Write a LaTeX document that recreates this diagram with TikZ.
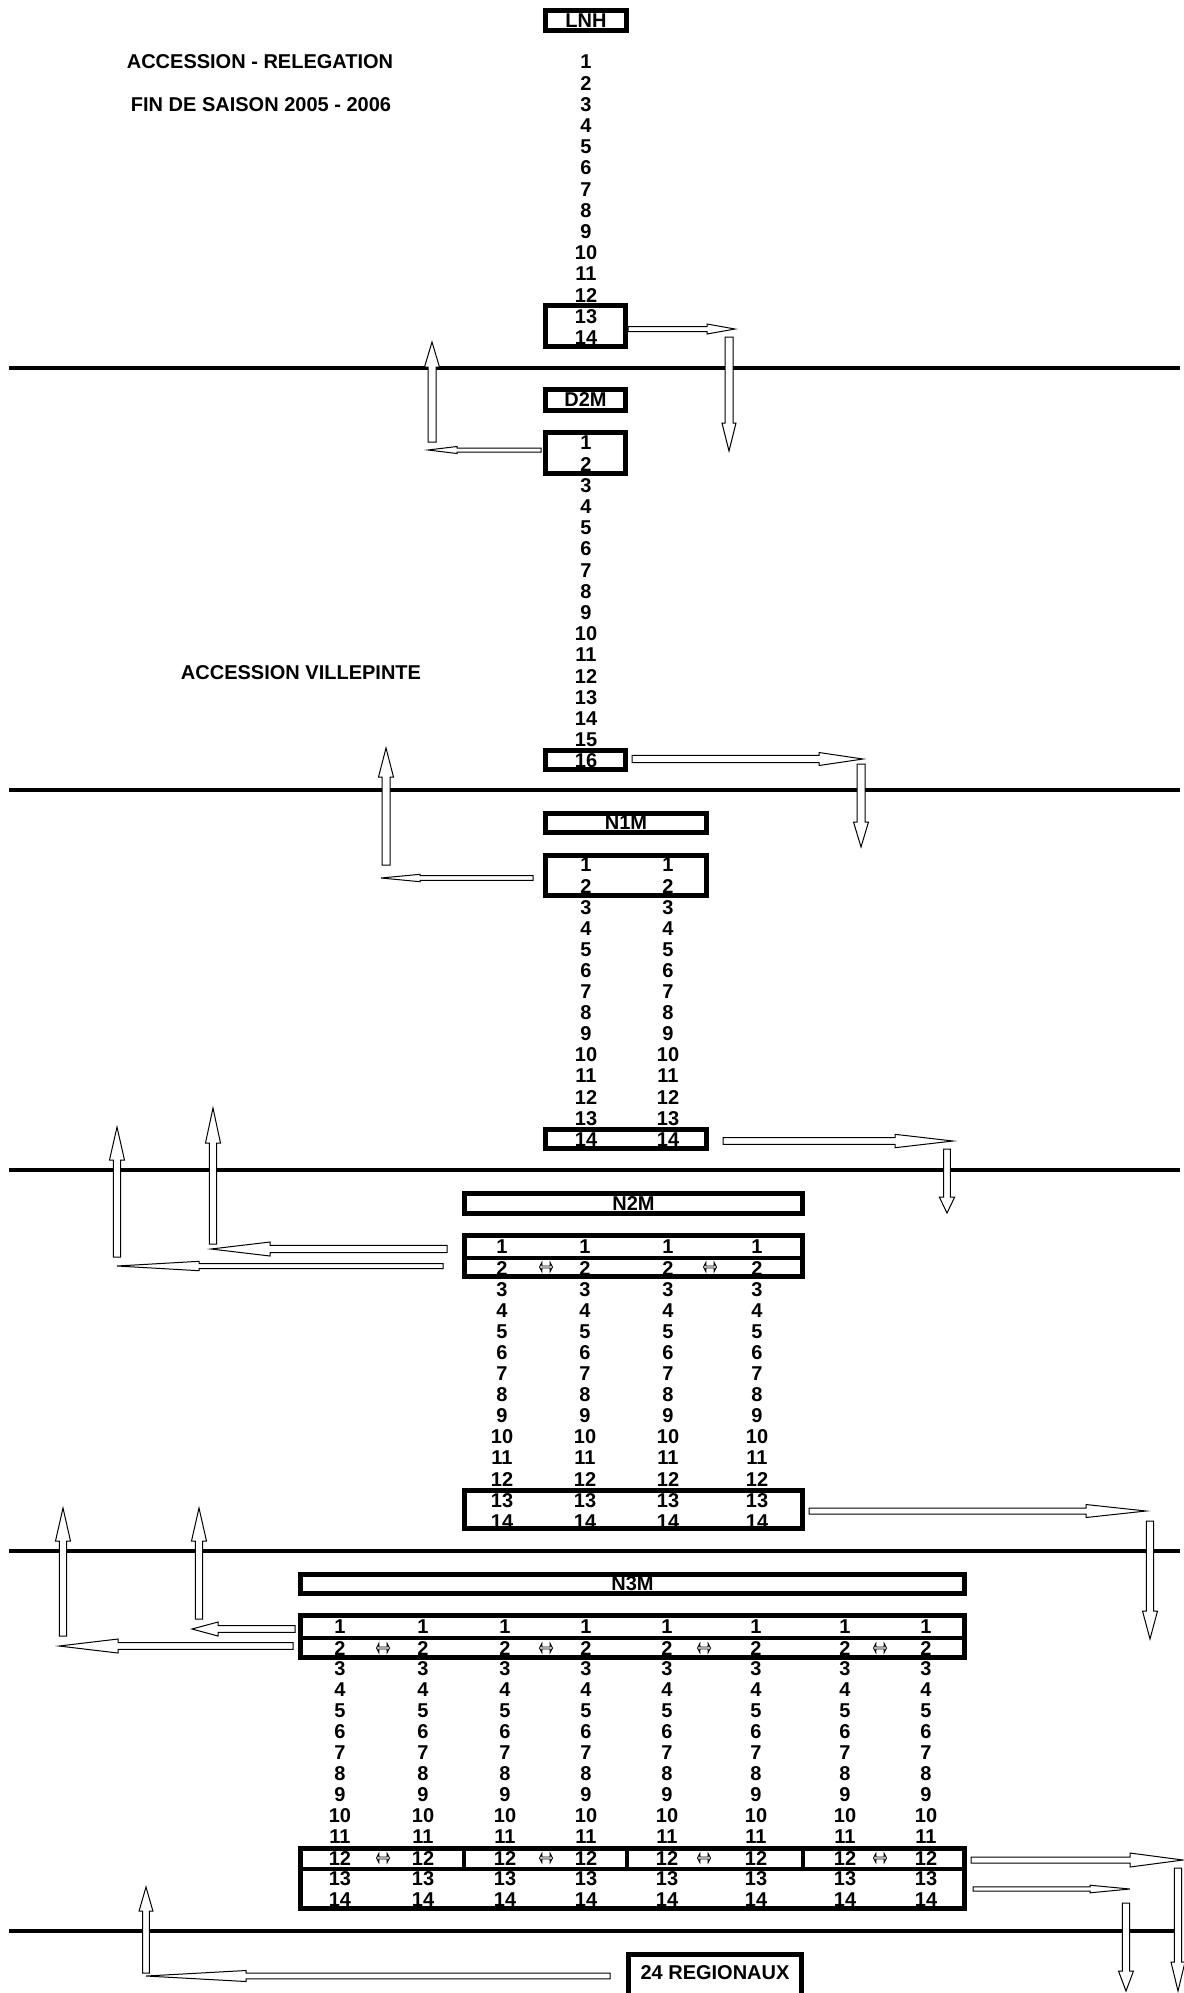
\documentclass[tikz,border=0pt]{standalone}
\usepackage{fontspec}
\setmainfont{Liberation Sans}
\usetikzlibrary{calc,shapes.arrows}

% hollow block arrow: tail, tip, shaft half-width, head half-width, head length
\newcommand{\blockarrow}[5]{%
  \coordinate (hb) at ($(#2)!#5!(#1)$);
  \draw[hollow] ($(#1)!#3!90:(#2)$) -- ($(hb)!#3!90:(#2)$) -- ($(hb)!#4!90:(#2)$) -- (#2)
    -- ($(hb)!#4!-90:(#2)$) -- ($(hb)!#3!-90:(#2)$) -- ($(#1)!#3!-90:(#2)$) -- cycle;}

\begin{document}
\begin{tikzpicture}[x=0.5pt, y=-0.5pt, font=\bfseries\fontsize{10}{11}\selectfont,
    num/.style={inner sep=0pt},
    tag/.style={draw, line width=2.3pt, inner sep=0pt},
    boxline/.style={line width=2.3pt},
    sepline/.style={line width=2.4pt},
    hollow/.style={draw, fill=white, line width=0.5pt},
    xchg/.style={double arrow, draw, line width=0.45pt, inner sep=0pt,
      minimum height=6.5pt, minimum width=4.6pt, double arrow tip angle=125,
      double arrow head extend=0.8pt}]
  \useasboundingbox (0,0) rectangle (1184,1993);

  % headings
  \node[num] (head1) at (260,62) {ACCESSION - RELEGATION};
  \node[num] (head2) at (261,105) {FIN DE SAISON 2005 - 2006};
  \node[num] (vill) at (301,673) {ACCESSION VILLEPINTE};

  % LNH
  \node[tag, minimum width=40.5pt, minimum height=10pt] (lnh) at (586,20.5) {LNH};
  \foreach \i in {1,...,14}
    \node[num] (lnh-\i) at (586,{62+21.2*(\i-1)}) {\i};
  \draw[boxline] (545.5,305.5) rectangle (625.5,346.5);

  % D2M
  \node[tag, minimum width=40pt, minimum height=10.5pt] (d2m) at (585.5,400) {D2M};
  \foreach \i in {1,...,16}
    \node[num] (d2m-\i) at (586,{443+21.2*(\i-1)}) {\i};
  \draw[boxline] (545.5,432.5) rectangle (625.5,473.5);
  \draw[boxline] (545.5,750.5) rectangle (625.5,769.5);

  % N1M
  \node[tag, minimum width=80.5pt, minimum height=9.5pt] (n1m) at (626,823) {N1M};
  \foreach \c [count=\k] in {586,668}
    \foreach \i in {1,...,14}
      \node[num] (n1m-\k-\i) at (\c,{865+21.1*(\i-1)}) {\i};
  \draw[boxline] (545.5,855.5) rectangle (706.5,895.5);
  \draw[boxline] (545.5,1129.5) rectangle (706.5,1148.5);

  % N2M
  \node[tag, minimum width=169pt, minimum height=10pt] (n2m) at (633.5,1203.5) {N2M};
  \foreach \c [count=\k] in {502,585,668,757}
    \foreach \i in {1,...,14}
      \node[num] (n2m-\k-\i) at (\c,{1247+21.1*(\i-1)}) {\i};
  \draw[boxline] (464.5,1235.5) rectangle (802.5,1276.5) (464.5,1258) -- (802.5,1258);
  \draw[boxline] (464.5,1490.5) rectangle (802.5,1528.5);
  \foreach \c [count=\k] in {546,710}
    \node[xchg] (n2m-x\k) at (\c,1267) {};

  % N3M
  \node[tag, minimum width=332pt, minimum height=9.5pt] (n3m) at (632.5,1584) {N3M};
  \foreach \c [count=\k] in {340,423,505,586,667,756,845,926}
    \foreach \i in {1,...,14}
      \node[num] (n3m-\k-\i) at (\c,{1627+21*(\i-1)}) {\i};
  \draw[boxline] (300.5,1615.5) rectangle (964.5,1657.5) (300.5,1638) -- (964.5,1638);
  \draw[boxline] (300.5,1848.5) rectangle (964.5,1908.5) (300.5,1869) -- (964.5,1869);
  \foreach \c in {464,627,803}
    \draw[boxline] (\c,1848.5) -- (\c,1869);
  \foreach \c [count=\k] in {383,546,704,880} {
    \node[xchg] (n3m-x\k) at (\c,1648) {};
    \node[xchg] (n3m-y\k) at (\c,1858) {};
  }

  % regionaux
  \node[num] (reg) at (715,1973) {24 REGIONAUX};
  \draw[boxline] (628.5,2000) |- (801.5,1954.5) -- (801.5,2000);

  % separators
  \foreach \y in {368,790,1170,1551,1931}
    \draw[sepline] (9,\y) -- (1180,\y);

  % LNH <-> D2M
  \coordinate (r1a) at (628,329);  \coordinate (r1b) at (735,329);
  \coordinate (d1a) at (729,337);  \coordinate (d1b) at (729,451);
  \coordinate (u1a) at (432,442);  \coordinate (u1b) at (432,342);
  \coordinate (l1a) at (541,450);  \coordinate (l1b) at (428,450);
  \blockarrow{r1a}{r1b}{1.25pt}{2.5pt}{14pt}
  \blockarrow{d1a}{d1b}{2pt}{3.5pt}{14pt}
  \blockarrow{u1a}{u1b}{2pt}{3.75pt}{12.5pt}
  \blockarrow{l1a}{l1b}{1pt}{1.75pt}{14.5pt}

  % D2M <-> N1M
  \coordinate (r2a) at (632,759);  \coordinate (r2b) at (863,759);
  \coordinate (d2a) at (861,764);  \coordinate (d2b) at (861,847);
  \coordinate (u2a) at (386,865);  \coordinate (u2b) at (386,748);
  \coordinate (l2a) at (533,878);  \coordinate (l2b) at (381,878);
  \blockarrow{r2a}{r2b}{1.85pt}{3.25pt}{22pt}
  \blockarrow{d2a}{d2b}{2pt}{3.75pt}{12.5pt}
  \blockarrow{u2a}{u2b}{2pt}{3.75pt}{14.5pt}
  \blockarrow{l2a}{l2b}{1.15pt}{1.85pt}{19.5pt}

  % N1M <-> N2M
  \coordinate (r3a) at (723,1141);  \coordinate (r3b) at (953,1141);
  \coordinate (d3a) at (947,1149);  \coordinate (d3b) at (947,1213);
  \coordinate (u3a) at (117,1257);  \coordinate (u3b) at (117,1127);
  \coordinate (u4a) at (213,1244);  \coordinate (u4b) at (213,1108);
  \coordinate (l3a) at (447,1249);  \coordinate (l3b) at (211,1249);
  \coordinate (l4a) at (443,1266);  \coordinate (l4b) at (117,1266);
  \blockarrow{r3a}{r3b}{1.65pt}{3.35pt}{29pt}
  \blockarrow{d3a}{d3b}{1.65pt}{3.85pt}{8pt}
  \blockarrow{u3a}{u3b}{1.85pt}{3.75pt}{16.5pt}
  \blockarrow{u4a}{u4b}{1.85pt}{3.75pt}{17.5pt}
  \blockarrow{l3a}{l3b}{1.85pt}{3.5pt}{29.5pt}
  \blockarrow{l4a}{l4b}{1.25pt}{2.35pt}{41pt}

  % N2M <-> N3M
  \coordinate (r4a) at (809,1511);  \coordinate (r4b) at (1146,1511);
  \coordinate (d4a) at (1150,1521); \coordinate (d4b) at (1150,1639);
  \coordinate (u5a) at (63,1636);   \coordinate (u5b) at (63,1508);
  \coordinate (u6a) at (199,1619);  \coordinate (u6b) at (199,1508);
  \coordinate (l5a) at (295,1629);  \coordinate (l5b) at (192,1629);
  \coordinate (l6a) at (293,1646);  \coordinate (l6b) at (59,1646);
  \blockarrow{r4a}{r4b}{1.5pt}{3.25pt}{30pt}
  \blockarrow{d4a}{d4b}{1.85pt}{3.75pt}{14pt}
  \blockarrow{u5a}{u5b}{1.85pt}{3.75pt}{16.5pt}
  \blockarrow{u6a}{u6b}{1.85pt}{3.75pt}{16.5pt}
  \blockarrow{l5a}{l5b}{1.65pt}{3.5pt}{13pt}
  \blockarrow{l6a}{l6b}{1.65pt}{3.5pt}{29.5pt}

  % N3M <-> regionaux
  \coordinate (r5a) at (971,1860);  \coordinate (r5b) at (1183,1860);
  \coordinate (r6a) at (973,1889);  \coordinate (r6b) at (1130,1889);
  \coordinate (d5a) at (1126,1903); \coordinate (d5b) at (1126,1991);
  \coordinate (d6a) at (1178,1868); \coordinate (d6b) at (1178,1991);
  \coordinate (u7a) at (146,1973);  \coordinate (u7b) at (146,1887);
  \coordinate (l7a) at (610,1976);  \coordinate (l7b) at (146,1976);
  \blockarrow{r5a}{r5b}{1.5pt}{3.5pt}{26.5pt}
  \blockarrow{r6a}{r6b}{1.1pt}{1.9pt}{20pt}
  \blockarrow{d5a}{d5b}{1.85pt}{3.75pt}{10pt}
  \blockarrow{d6a}{d6b}{1.85pt}{3.5pt}{14.5pt}
  \blockarrow{u7a}{u7b}{1.65pt}{3.45pt}{12pt}
  \blockarrow{l7a}{l7b}{1.4pt}{2.75pt}{50pt}
\end{tikzpicture}
\end{document}
